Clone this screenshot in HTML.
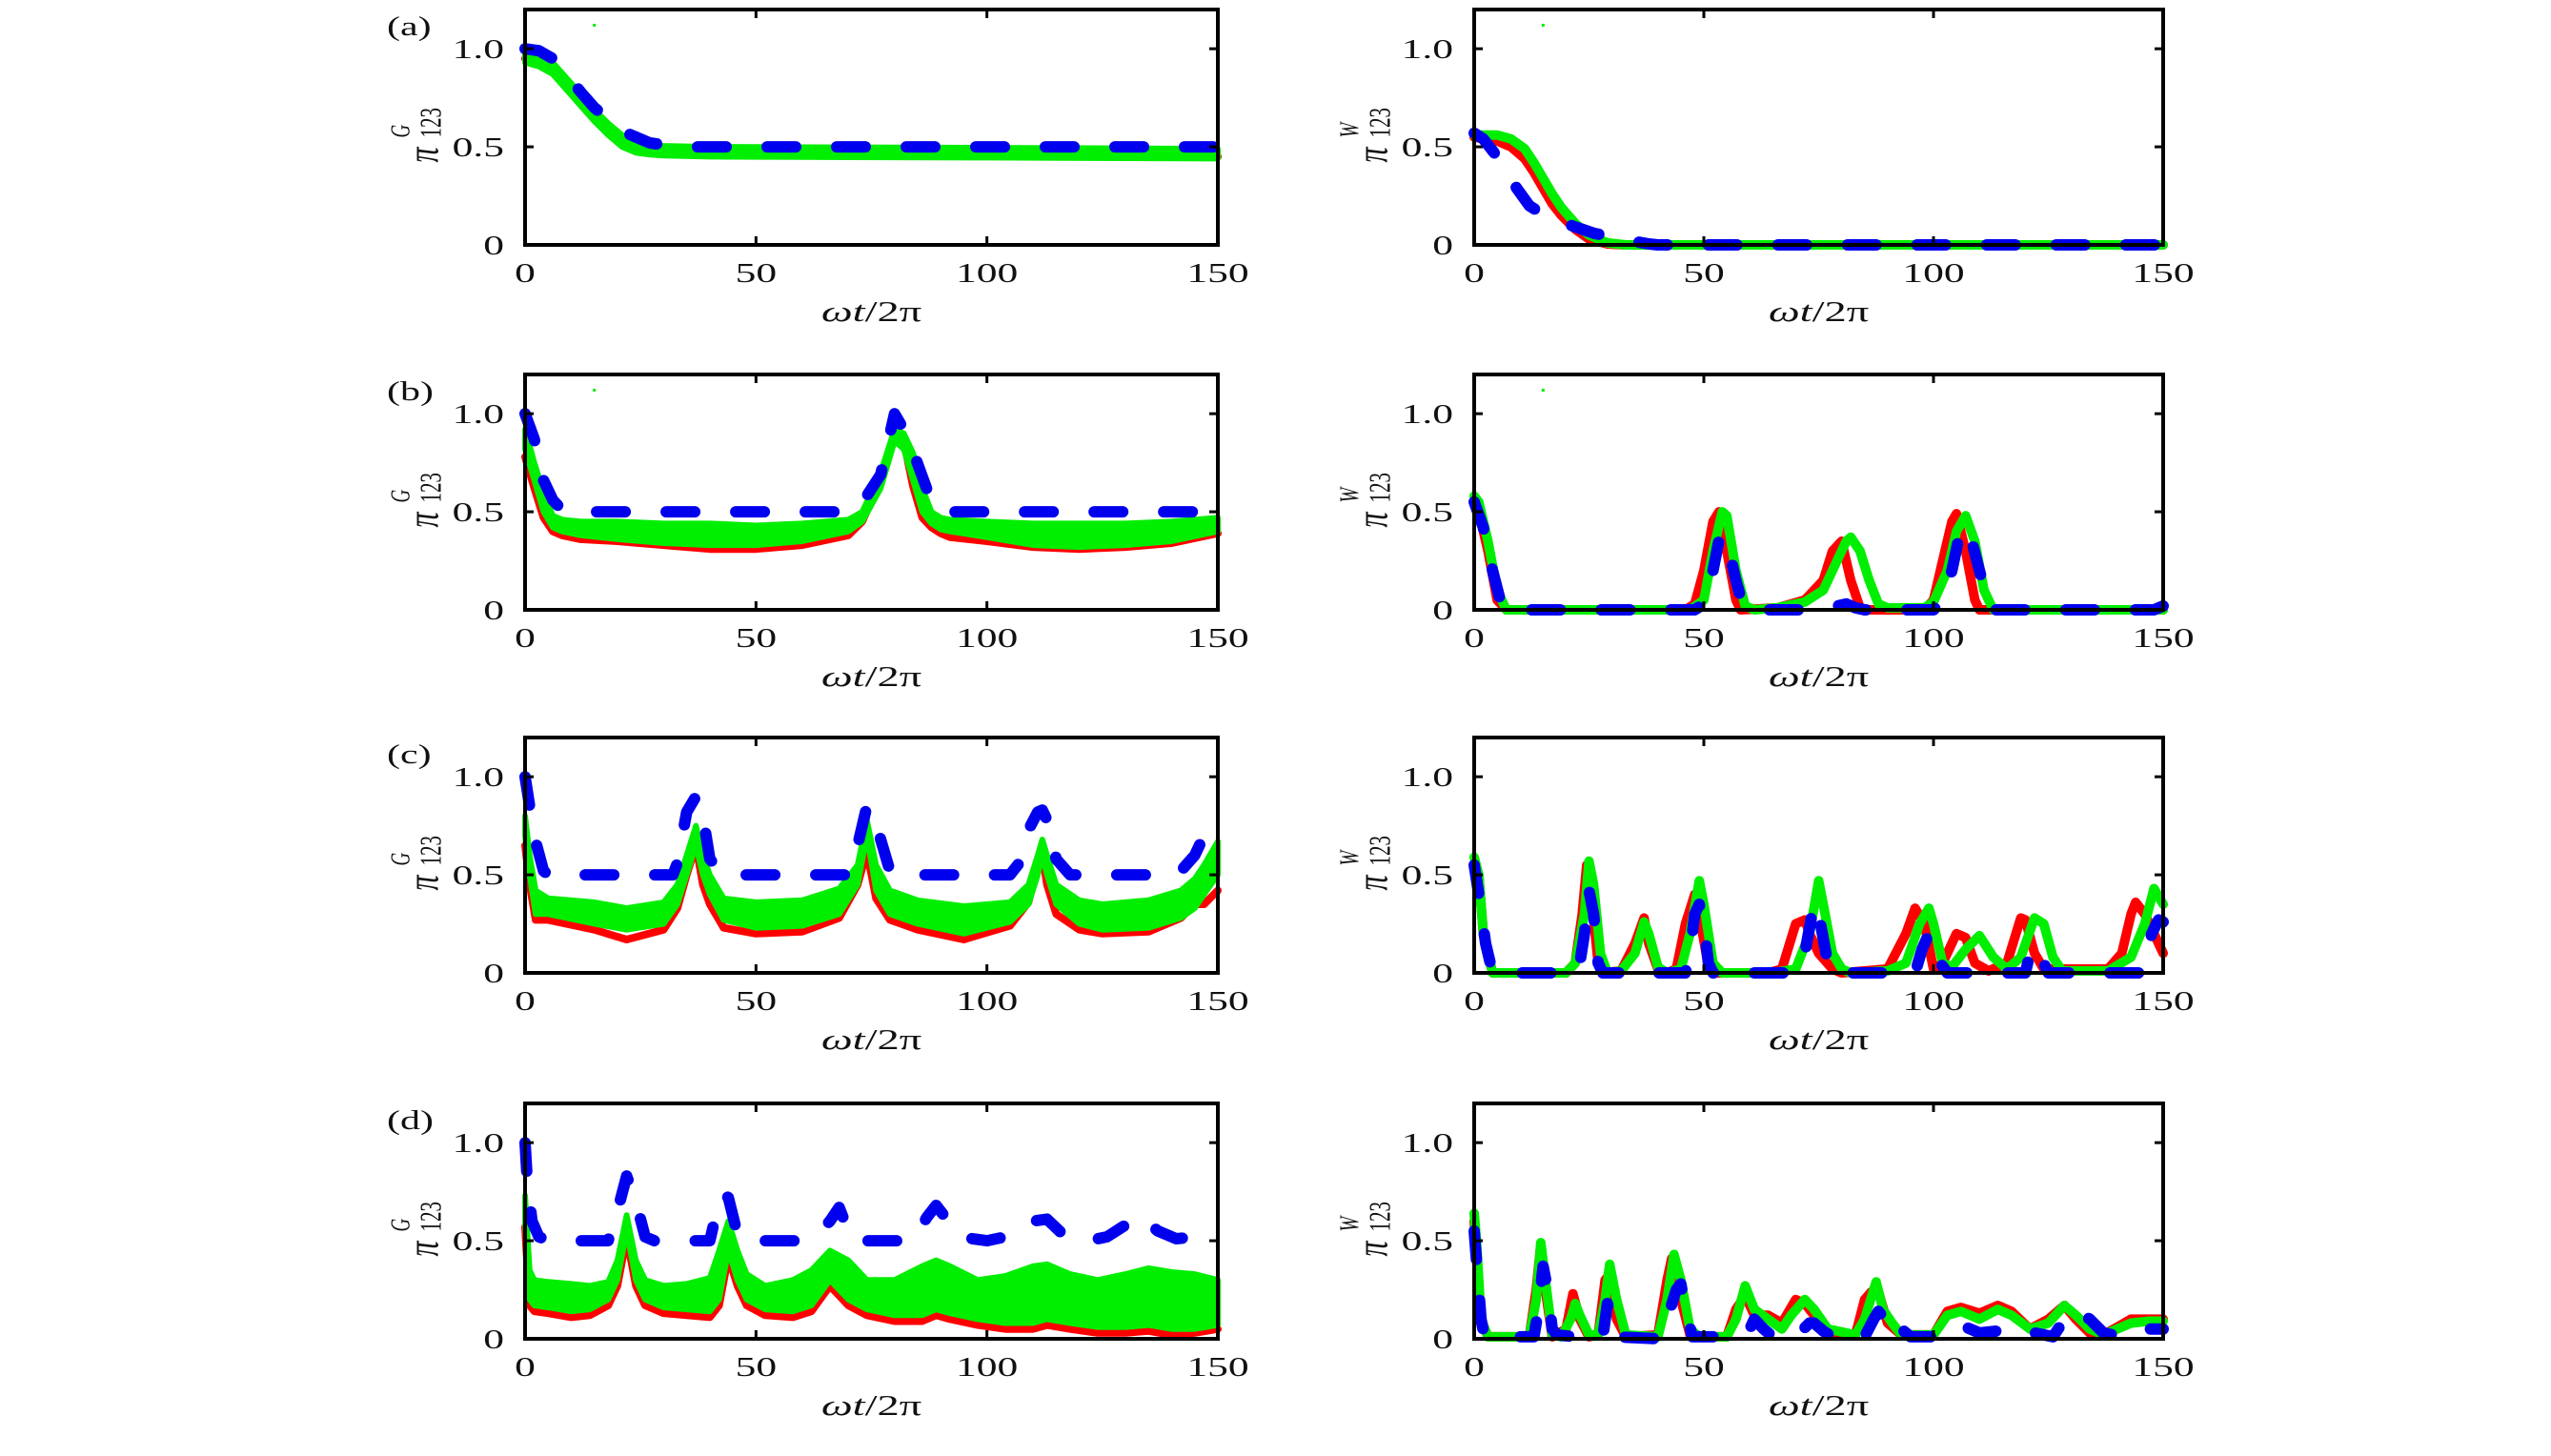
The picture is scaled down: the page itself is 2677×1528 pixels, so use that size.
<!DOCTYPE html>
<html><head><meta charset="utf-8"><style>
html,body{margin:0;padding:0;background:#fff;}
svg{display:block;}
text{font-family:"Liberation Serif",serif;fill:#111;}
</style></head><body>
<svg id="fig" width="2677" height="1528" viewBox="0 0 2677 1528" xmlns="http://www.w3.org/2000/svg"></svg>
<script>
// ---- shared axis data ----
const xTicks = [0, 50, 100, 150];
const xTickLabels = ['0', '50', '100', '150'];
const yTicks = [0, 0.5, 1.0];
const yTickLabels = ['0', '0.5', '1.0'];
const xMax = 150, yMax = 1.2;

// ---- left column (π^G) : red [t,v], green band [t,lo,hi], blue [t,v] ----
const aG_red = [[0,0.95],[3,0.93],[6,0.89],[9,0.81],[12,0.72],[15,0.64],[18,0.57],[21,0.51],[24,0.48],[27,0.47],[30,0.468],[40,0.462],[60,0.458],[100,0.455],[150,0.45]];
const aG_green = [[0,0.93,0.99],[3,0.91,0.97],[6,0.87,0.93],[9,0.79,0.85],[12,0.71,0.77],[15,0.63,0.69],[18,0.56,0.62],[21,0.5,0.56],[24,0.47,0.53],[27,0.46,0.51],[30,0.455,0.505],[40,0.45,0.5],[60,0.448,0.498],[100,0.445,0.495],[150,0.44,0.49]];
const aG_blue = [[0,1.0],[3,0.99],[6,0.95],[9,0.87],[12,0.78],[15,0.7],[18,0.64],[21,0.58],[24,0.55],[27,0.52],[30,0.51],[35,0.5],[150,0.5]];

const bG_red = [[0,0.78],[2,0.62],[4,0.47],[6,0.4],[8,0.38],[12,0.36],[20,0.35],[30,0.33],[40,0.31],[50,0.31],[60,0.33],[70,0.38],[73,0.45],[77,0.66],[80,0.88],[82,0.86],[84,0.63],[86,0.47],[88,0.42],[90,0.39],[92,0.37],[100,0.35],[110,0.32],[120,0.31],[130,0.32],[140,0.34],[150,0.39]];
const bG_green = [[0,0.82,0.92],[2,0.66,0.75],[4,0.5,0.6],[6,0.42,0.48],[8,0.4,0.46],[12,0.38,0.45],[20,0.36,0.45],[30,0.34,0.44],[40,0.33,0.44],[50,0.33,0.43],[60,0.35,0.44],[70,0.4,0.46],[73,0.45,0.5],[77,0.62,0.7],[80,0.86,0.92],[82,0.82,0.9],[84,0.66,0.8],[86,0.5,0.62],[88,0.44,0.5],[90,0.41,0.47],[92,0.4,0.46],[100,0.37,0.45],[110,0.33,0.44],[120,0.32,0.44],[130,0.33,0.44],[140,0.35,0.45],[150,0.4,0.47]];
const bG_blue = [[0,1.0],[2,0.87],[4,0.66],[6,0.56],[8,0.51],[12,0.5],[70,0.5],[73,0.545],[77,0.69],[80,1.0],[82,0.92],[84,0.81],[86,0.68],[88,0.55],[90,0.51],[92,0.5],[150,0.5]];

const cG_red = [[0,0.65],[1,0.45],[2.3,0.27],[5,0.27],[15,0.22],[22,0.17],[30,0.22],[33,0.33],[35,0.5],[37,0.65],[38.5,0.45],[40,0.35],[43,0.23],[50,0.2],[60,0.21],[68,0.28],[72,0.45],[74,0.62],[76,0.38],[79,0.27],[85,0.22],[95,0.17],[105,0.24],[109,0.36],[111,0.55],[112,0.6],[113,0.45],[115,0.3],[120,0.22],[125,0.2],[135,0.21],[142,0.28],[145,0.35],[147,0.35],[150,0.42]];
const cG_green = [[0,0.7,0.8],[1,0.5,0.6],[2.3,0.3,0.42],[5,0.3,0.38],[15,0.25,0.36],[22,0.22,0.33],[30,0.25,0.36],[33,0.35,0.45],[35,0.5,0.6],[37,0.65,0.75],[38.5,0.5,0.6],[40,0.4,0.5],[43,0.27,0.38],[50,0.23,0.36],[60,0.24,0.37],[68,0.3,0.43],[72,0.45,0.55],[74,0.7,0.78],[76,0.42,0.55],[79,0.3,0.42],[85,0.25,0.37],[95,0.2,0.34],[105,0.26,0.36],[109,0.35,0.45],[111,0.5,0.6],[112,0.6,0.68],[113,0.5,0.6],[115,0.35,0.45],[120,0.25,0.37],[125,0.22,0.35],[135,0.23,0.37],[142,0.28,0.42],[145,0.33,0.48],[147,0.4,0.55],[150,0.5,0.67]];
const cG_blue = [[0,1.0],[1,0.85],[2.3,0.67],[4,0.52],[5,0.5],[32,0.5],[33,0.56],[35,0.82],[37,0.9],[38.5,0.8],[40,0.58],[43,0.5],[70,0.5],[72,0.65],[74,0.85],[76,0.76],[79,0.52],[81,0.5],[105,0.5],[107,0.56],[109,0.73],[111,0.82],[112,0.83],[113,0.78],[115,0.58],[118,0.5],[141,0.5],[142,0.52],[145,0.6],[147,0.7],[150,0.78]];

const dG_red = [[0,0.57],[1,0.17],[2,0.14],[5,0.13],[10,0.11],[14,0.12],[18,0.17],[20,0.27],[22,0.52],[24,0.27],[26,0.17],[30,0.13],[35,0.12],[40,0.11],[42,0.17],[44,0.42],[46,0.27],[48,0.17],[52,0.12],[58,0.11],[62,0.14],[66,0.27],[70,0.17],[74,0.12],[80,0.09],[86,0.09],[89,0.12],[92,0.1],[98,0.07],[104,0.05],[110,0.05],[113,0.07],[118,0.05],[124,0.03],[130,0.03],[135,0.04],[140,0.02],[145,0.03],[150,0.05]];
const dG_green = [[0,0.6,0.73],[1,0.2,0.35],[2,0.17,0.3],[5,0.16,0.29],[10,0.14,0.28],[14,0.15,0.27],[18,0.2,0.29],[20,0.3,0.4],[22,0.55,0.63],[24,0.3,0.4],[26,0.2,0.3],[30,0.16,0.27],[35,0.15,0.28],[40,0.14,0.31],[42,0.2,0.45],[44,0.45,0.6],[46,0.3,0.45],[48,0.2,0.33],[52,0.15,0.27],[58,0.14,0.3],[62,0.17,0.35],[66,0.3,0.45],[70,0.2,0.4],[74,0.15,0.3],[80,0.12,0.3],[86,0.12,0.37],[89,0.15,0.4],[92,0.13,0.37],[98,0.1,0.3],[104,0.08,0.32],[110,0.08,0.37],[113,0.1,0.38],[118,0.08,0.33],[124,0.06,0.3],[130,0.06,0.33],[135,0.07,0.36],[140,0.05,0.34],[145,0.05,0.33],[150,0.07,0.3]];
const dG_blue = [[0,1.0],[0.5,0.8],[1.5,0.6],[3,0.52],[5,0.5],[18,0.5],[20,0.65],[22,0.83],[24,0.7],[26,0.52],[28,0.5],[40,0.5],[41,0.6],[42.8,0.74],[44,0.72],[45.8,0.55],[47,0.5],[60,0.5],[63,0.53],[66,0.6],[68,0.67],[69.5,0.58],[71,0.5],[84,0.5],[87,0.62],[89,0.68],[91,0.62],[94,0.52],[100,0.5],[104,0.52],[107,0.57],[110,0.6],[113,0.61],[117,0.52],[122,0.5],[126,0.52],[130,0.58],[133,0.63],[137,0.55],[141,0.51],[145,0.52],[150,0.57]];

// ---- right column (π^W) : red, green, blue as [t,v] ----
const aW_red = [[0,0.55],[5,0.53],[8,0.5],[11,0.44],[13,0.37],[15,0.29],[17,0.21],[19,0.15],[22,0.08],[25,0.03],[29,0.005],[33,0],[150,0]];
const aW_green = [[0,0.56],[5,0.56],[8,0.54],[11,0.49],[13,0.42],[15,0.34],[17,0.26],[19,0.19],[22,0.11],[25,0.05],[29,0.01],[33,0],[150,0]];
const aW_blue = [[0,0.57],[2,0.54],[5,0.45],[8,0.33],[12,0.2],[16,0.14],[21,0.1],[26,0.06],[32,0.03],[38,0.005],[40,0],[150,0]];

const bW_red = [[0,0.55],[1,0.5],[3,0.3],[5,0.05],[7,0],[46,0],[48,0.03],[50,0.2],[52,0.45],[53.3,0.5],[55,0.3],[57,0.05],[58,0],[66,0.01],[72,0.05],[76,0.15],[78,0.3],[80,0.35],[82,0.15],[84,0.01],[86,0],[98,0],[100,0.05],[102,0.25],[104,0.45],[105,0.49],[107,0.3],[109,0.05],[110,0],[150,0]];
const bW_green = [[0,0.58],[1,0.55],[3,0.35],[5,0.1],[7,0],[47,0],[50,0.05],[52,0.3],[54,0.5],[55,0.48],[57,0.2],[59,0.02],[61,0],[66,0.01],[72,0.04],[76,0.1],[79,0.25],[81,0.35],[82,0.37],[84,0.3],[86,0.15],[88,0.03],[90,0.01],[98,0.01],[100,0.04],[103,0.2],[105,0.4],[107,0.48],[109,0.35],[111,0.1],[113,0],[150,0]];
const bW_blue = [[0,0.55],[2,0.42],[4,0.2],[6,0.02],[7,0],[48,0],[50,0.03],[52,0.2],[53.5,0.38],[55,0.35],[57,0.15],[58.5,0.02],[60,0],[76,0],[79,0.02],[81,0.03],[83,0.01],[85,0],[100,0],[102,0.05],[104,0.2],[106,0.42],[108,0.38],[110,0.2],[112,0.03],[113,0],[148,0],[150,0.02]];

const cW_red = [[0,0.55],[1,0.5],[2,0.2],[4,0],[20,0],[22,0.05],[23.5,0.3],[24.5,0.55],[25.5,0.4],[27,0.05],[28,0],[32,0.01],[35,0.15],[37,0.28],[38,0.15],[40,0.02],[42,0],[44,0.02],[46,0.25],[48,0.4],[49,0.3],[51,0.03],[53,0],[64,0],[67,0.02],[70,0.25],[72,0.27],[73,0.2],[75,0.1],[78,0.02],[80,0],[90,0.02],[94,0.2],[96,0.33],[98,0.25],[100,0.02],[102,0.05],[105,0.2],[107,0.18],[109,0.05],[112,0.01],[116,0.05],[119,0.28],[120,0.27],[122,0.1],[124,0.02],[138,0.02],[141,0.1],[143,0.3],[144,0.36],[146,0.3],[148,0.2],[150,0.1]];
const cW_green = [[0,0.59],[1,0.5],[2,0.2],[4,0],[20,0],[22,0.05],[24,0.3],[25,0.57],[26,0.45],[27.5,0.1],[29,0],[32,0.01],[35,0.1],[37,0.26],[38,0.2],[40,0.03],[42,0],[45,0.02],[47,0.2],[49,0.47],[50,0.35],[52,0.05],[54,0],[65,0],[70,0.02],[73,0.2],[75,0.47],[76,0.35],[78,0.1],[80,0.02],[82,0],[90,0.01],[94,0.05],[97,0.25],[99,0.33],[100,0.25],[102,0.05],[104,0.03],[107,0.12],[110,0.19],[113,0.08],[116,0.02],[119,0.08],[122,0.28],[124,0.25],[126,0.08],[128,0.01],[138,0.01],[143,0.08],[146,0.25],[148,0.43],[150,0.35]];
const cW_blue = [[0,0.55],[1,0.4],[2.5,0.15],[4,0],[22,0],[23,0.05],[24,0.2],[25,0.42],[26,0.3],[27,0.05],[28,0],[36,0],[37,0.01],[38,0],[46,0],[47,0.1],[48,0.3],[49,0.35],[50,0.25],[51,0.05],[52,0],[70,0],[72,0.1],[74,0.36],[75,0.3],[77,0.05],[78,0],[96,0],[97.5,0.12],[99,0.2],[100,0.18],[101.5,0.05],[103,0],[120,0],[121,0.1],[122,0.14],[123,0.1],[125,0],[145,0],[146,0.05],[147.5,0.2],[149,0.27],[150,0.26]];

const dW_red = [[0,0.6],[0.5,0.45],[1.5,0.1],[3,0.01],[12,0.01],[13.5,0.25],[14.5,0.48],[15.5,0.25],[17,0.01],[20,0.05],[21.5,0.23],[23,0.1],[25,0.01],[27,0.02],[28.5,0.3],[29.5,0.33],[31,0.1],[33,0.01],[40,0.02],[42,0.3],[43,0.41],[45,0.2],[47,0.02],[49,0.01],[55,0.01],[57,0.15],[59,0.22],[61,0.12],[64,0.12],[67,0.08],[70,0.2],[72,0.18],[74,0.12],[77,0.02],[83,0.02],[85,0.2],[86.5,0.24],[88,0.24],[90,0.08],[93,0.02],[100,0.02],[103,0.14],[106,0.16],[110,0.13],[114,0.17],[117,0.14],[121,0.05],[125,0.1],[128.5,0.17],[131,0.1],[134,0.03],[137,0.02],[140,0.06],[143,0.1],[147,0.1],[150,0.1]];
const dW_green = [[0,0.64],[0.5,0.5],[1.5,0.1],[3,0.01],[12,0.01],[13.5,0.2],[14.5,0.49],[15.5,0.3],[17,0.02],[19,0.01],[21,0.1],[22,0.18],[23,0.12],[25,0.02],[27,0.02],[28.5,0.2],[29.5,0.38],[31,0.2],[33,0.02],[40,0.01],[42,0.2],[43.5,0.43],[45,0.3],[47,0.05],[49,0.01],[55,0.01],[57,0.1],[59,0.27],[61,0.15],[64,0.1],[67,0.05],[69,0.12],[72,0.2],[74,0.15],[77,0.05],[83,0.02],[85,0.1],[87.5,0.29],[89,0.15],[91,0.08],[93,0.02],[100,0.02],[103,0.12],[106,0.14],[110,0.1],[114,0.15],[117,0.12],[121,0.05],[125,0.08],[128.5,0.17],[131,0.12],[134,0.05],[137,0.02],[140,0.05],[143,0.08],[147,0.09],[150,0.09]];
const dW_blue = [[0,0.55],[0.5,0.4],[1.5,0.1],[2,0.04],[3,0.02],[8,0.01],[13,0.01],[14,0.15],[15,0.37],[16,0.25],[17,0.05],[18,0.02],[22,0.01],[28,0.01],[29,0.18],[30,0.1],[31,0.01],[40,0],[42,0.1],[44,0.25],[45,0.28],[46,0.15],[47.5,0.01],[55,0.01],[60,0.05],[61,0.1],[63,0.05],[65,0.01],[70,0.01],[73,0.08],[74,0.08],[76,0.04],[78,0.01],[85,0.01],[87,0.1],[88,0.14],[89.5,0.1],[91,0.14],[93,0.05],[95,0.01],[100,0.01],[103,0.05],[106,0.07],[110,0.03],[114,0.04],[118,0.06],[122,0.03],[126,0.01],[128,0.08],[131,0.15],[134,0.1],[137,0.03],[141,0.01],[145,0.05],[150,0.05]];

// stray single green point present in panels (a),(b)
const strayPoint = [15, 1.12];

const NS = 'http://www.w3.org/2000/svg';
const svg = document.getElementById('fig');
function mk(tag, attrs, parent) {
  const e = document.createElementNS(NS, tag);
  for (const k in attrs) e.setAttribute(k, attrs[k]);
  (parent || svg).appendChild(e);
  return e;
}
const SX = 1.5;
function txt(parent, x, y, s, size, anchor, italic) {
  const t = mk('text', {transform: `translate(${x},${y}) scale(${SX},1)`, 'font-size': size, 'text-anchor': anchor || 'start'}, parent);
  if (italic) t.setAttribute('font-style', 'italic');
  t.textContent = s;
  return t;
}

const colLeft = [551, 1547], colRight = [1278, 2270];
const rowBottom = [257, 640, 1021, 1405];
const rowLetters = ['a', 'b', 'c', 'd'];
const leftSeries = [
  [aG_red, aG_green, aG_blue], [bG_red, bG_green, bG_blue],
  [cG_red, cG_green, cG_blue], [dG_red, dG_green, dG_blue]];
const rightSeries = [
  [aW_red, aW_green, aW_blue], [bW_red, bW_green, bW_blue],
  [cW_red, cW_green, cW_blue], [dW_red, dW_green, dW_blue]];

for (let r = 0; r < 4; r++) {
  for (let c = 0; c < 2; c++) {
    const L = colLeft[c], R = colRight[c], B = rowBottom[r], T = B - 247;
    const xs = t => L + t / xMax * (R - L);
    const ys = v => B - v / yMax * (B - T);
    const g = mk('g', {});
    
    
    const ser = c === 0 ? leftSeries[r] : rightSeries[r];
    const ptsStr = arr => arr.map(p => `${xs(p[0]).toFixed(1)},${ys(p[1]).toFixed(1)}`).join(' ');

    const red = mk('polyline', {points: ptsStr(ser[0]), fill: 'none', stroke: '#ff0000', 'stroke-width': c === 0 ? 8 : 10, 'stroke-linejoin': 'round', 'stroke-linecap': 'round'}, g);
    
    

    if (c === 0) {
      const band = ser[1];
      const up = band.map(p => `${xs(p[0]).toFixed(1)},${ys(p[2]).toFixed(1)}`);
      const lo = band.slice().reverse().map(p => `${xs(p[0]).toFixed(1)},${ys(p[1]).toFixed(1)}`);
      const gp = mk('polygon', {points: up.concat(lo).join(' '), fill: '#00ee00', stroke: '#00ee00', 'stroke-width': 6, 'stroke-linejoin': 'round'}, g);
      
      
    } else {
      const gl = mk('polyline', {points: ptsStr(ser[1]), fill: 'none', stroke: '#00ee00', 'stroke-width': 10, 'stroke-linejoin': 'round', 'stroke-linecap': 'round'}, g);
      
      
    }

    const bl = mk('polyline', {points: ptsStr(ser[2]), fill: 'none', stroke: '#0000ee', 'stroke-width': 12, 'stroke-dasharray': '30 43', 'stroke-linecap': 'round', 'stroke-linejoin': 'round'}, g);
    
    

    if (r < 2) {
      const dot = mk('rect', {x: xs(strayPoint[0]) - 1.5, y: ys(strayPoint[1]) - 1.5, width: 3, height: 3, fill: '#00ee00'}, g);
      
      
    }

    const fr = mk('rect', {x: L, y: T, width: R - L, height: B - T, fill: 'none', stroke: '#000', 'stroke-width': 4}, g);
    
    

    xTicks.forEach((tv, i) => {
      const x = xs(tv);
      if (i > 0 && i < xTicks.length - 1) {
        mk('line', {x1: x, y1: B, x2: x, y2: B - 9, stroke: '#000', 'stroke-width': 3}, g);
        mk('line', {x1: x, y1: T, x2: x, y2: T + 9, stroke: '#000', 'stroke-width': 3}, g);
      }
      const lb = txt(g, x, B + 39, xTickLabels[i], 29, 'middle');
      
      
    });
    yTicks.forEach((tv, i) => {
      const y = ys(tv);
      if (i > 0) {
        mk('line', {x1: L, y1: y, x2: L + 9, y2: y, stroke: '#000', 'stroke-width': 3}, g);
        mk('line', {x1: R, y1: y, x2: R - 9, y2: y, stroke: '#000', 'stroke-width': 3}, g);
      }
      const lb = txt(g, L - 22, y + 10, yTickLabels[i], 29, 'end');
      
      
    });

    const xt = mk('text', {transform: `translate(${(L + R) / 2},${B + 80}) scale(${SX},1)`, 'font-size': 31, 'text-anchor': 'middle'}, g);
    
    
    const w1 = mk('tspan', {'font-style': 'italic'}, xt); w1.textContent = 'ωt';
    const w2 = mk('tspan', {}, xt); w2.textContent = '/2π';

    const cx = L - 111, cy = (T + B) / 2 + 8;
    const yt = mk('g', {transform: `translate(${cx},${cy}) scale(${SX},1) rotate(-90)`}, g);
    
    
    const p1 = mk('text', {x: -29, y: 13, 'font-size': 32, 'font-style': 'italic'}, yt); p1.textContent = 'π';
    const p2 = mk('text', {x: -3, y: 15, 'font-size': 21}, yt); p2.textContent = '123';
    const p3 = mk('text', {x: -3, y: -7, 'font-size': 19, 'font-style': 'italic'}, yt); p3.textContent = c === 0 ? 'G' : 'W';

    if (c === 0) {
      const pl = txt(g, 406, B - 220, `(${rowLetters[r]})`, 28, 'start');
      
      
    }
  }
}
</script>
</body></html>
